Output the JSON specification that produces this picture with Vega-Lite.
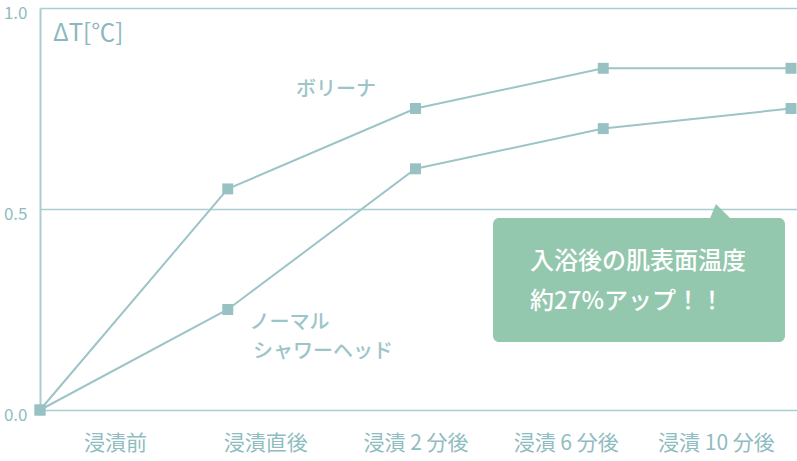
{
  "$schema": "https://vega.github.io/schema/vega-lite/v6.json",
  "width": 757,
  "height": 402,
  "autosize": {"type": "none"},
  "padding": {"left": 40, "top": 8, "right": 0, "bottom": 51},
  "background": "white",
  "config": {"view": {"stroke": null}, "font": "Noto Sans CJK JP"},
  "datasets": {
    "main": [
      {"step": 0, "label": "浸漬前", "series": "ボリーナ", "value": 0},
      {"step": 1, "label": "浸漬直後", "series": "ボリーナ", "value": 0.55},
      {"step": 2, "label": "浸漬 2 分後", "series": "ボリーナ", "value": 0.75},
      {"step": 3, "label": "浸漬 6 分後", "series": "ボリーナ", "value": 0.85},
      {"step": 4, "label": "浸漬 10 分後", "series": "ボリーナ", "value": 0.85},
      {"step": 0, "label": "浸漬前", "series": "ノーマルシャワーヘッド", "value": 0},
      {"step": 1, "label": "浸漬直後", "series": "ノーマルシャワーヘッド", "value": 0.25},
      {"step": 2, "label": "浸漬 2 分後", "series": "ノーマルシャワーヘッド", "value": 0.6},
      {"step": 3, "label": "浸漬 6 分後", "series": "ノーマルシャワーヘッド", "value": 0.7},
      {"step": 4, "label": "浸漬 10 分後", "series": "ノーマルシャワーヘッド", "value": 0.75}
    ],
    "box": [{"x1": 2.413, "x2": 3.968, "y1": 0.169, "y2": 0.4776}],
    "pointer": [{"x": 3.6, "y": 0.495}],
    "callout": [
      {"x": 2.61, "y": 0.368, "text": "入浴後の肌表面温度"},
      {"x": 2.61, "y": 0.269, "text": "約27%アップ！！"}
    ],
    "serieslabels": [
      {"x": 1.577, "y": 0.796, "text": "ボリーナ"},
      {"x": 1.329, "y": 0.216, "text": "ノーマル"},
      {"x": 1.507, "y": 0.144, "text": "シャワーヘッド"}
    ],
    "unit": [{"x": 0.069, "y": 0.935, "text": "ΔT[℃]"}]
  },
  "layer": [
    {
      "data": {"name": "main"},
      "mark": {"type": "line", "color": "#9dc4c7", "strokeWidth": 2},
      "encoding": {
        "x": {
          "field": "step", "type": "quantitative",
          "scale": {"domain": [0, 4.032], "nice": false, "zero": false},
          "axis": {
            "values": [0.4, 1.2, 2.0, 2.8, 3.6],
            "labelExpr": "['浸漬前','浸漬直後','浸漬 2 分後','浸漬 6 分後','浸漬 10 分後'][round((datum.value-0.4)/0.8)]",
            "domain": false, "ticks": false, "grid": false, "title": null,
            "labelFont": "Noto Sans CJK JP", "labelFontSize": 21, "labelColor": "#8fbcc0",
            "labelPadding": 22, "labelFlush": false, "labelOverlap": false
          }
        },
        "y": {
          "field": "value", "type": "quantitative",
          "scale": {"domain": [0, 1], "nice": false},
          "axis": {
            "values": [0, 0.5, 1], "format": ".1f", "title": null,
            "grid": true, "gridColor": "#a9cdd0", "gridWidth": 1.5,
            "domainColor": "#a9cdd0", "domainWidth": 2, "ticks": false,
            "labelFont": "Noto Sans CJK JP", "labelFontSize": 17, "labelColor": "#8fbcc0",
            "labelPadding": 13, "labelOffset": 5
          }
        },
        "detail": {"field": "series", "type": "nominal"}
      }
    },
    {
      "data": {"name": "main"},
      "mark": {"type": "point", "shape": "square", "filled": true, "size": 120, "color": "#98c1c4", "opacity": 1},
      "encoding": {
        "x": {"field": "step", "type": "quantitative"},
        "y": {"field": "value", "type": "quantitative"}
      }
    },
    {
      "data": {"name": "box"},
      "mark": {"type": "rect", "color": "#93c7ae", "cornerRadius": 6},
      "encoding": {
        "x": {"field": "x1", "type": "quantitative"},
        "x2": {"field": "x2"},
        "y": {"field": "y1", "type": "quantitative"},
        "y2": {"field": "y2"}
      }
    },
    {
      "data": {"name": "pointer"},
      "mark": {"type": "point", "shape": "M -0.43 0.55 L 0 -0.5 L 1.07 0.55 Z", "filled": true, "size": 784, "color": "#93c7ae", "opacity": 1},
      "encoding": {
        "x": {"field": "x", "type": "quantitative"},
        "y": {"field": "y", "type": "quantitative"}
      }
    },
    {
      "data": {"name": "callout"},
      "mark": {"type": "text", "color": "white", "fontSize": 24, "align": "left", "baseline": "middle", "font": "Noto Sans CJK JP", "fontWeight": 500},
      "encoding": {
        "x": {"field": "x", "type": "quantitative"},
        "y": {"field": "y", "type": "quantitative"},
        "text": {"field": "text"}
      }
    },
    {
      "data": {"name": "serieslabels"},
      "mark": {"type": "text", "color": "#9cc5c8", "fontSize": 20, "align": "center", "baseline": "middle", "font": "Noto Sans CJK JP", "fontWeight": 500},
      "encoding": {
        "x": {"field": "x", "type": "quantitative"},
        "y": {"field": "y", "type": "quantitative"},
        "text": {"field": "text"}
      }
    },
    {
      "data": {"name": "unit"},
      "mark": {"type": "text", "color": "#8ab8bc", "fontSize": 24, "align": "left", "baseline": "middle", "font": "Noto Sans CJK JP"},
      "encoding": {
        "x": {"field": "x", "type": "quantitative"},
        "y": {"field": "y", "type": "quantitative"},
        "text": {"field": "text"}
      }
    }
  ]
}
